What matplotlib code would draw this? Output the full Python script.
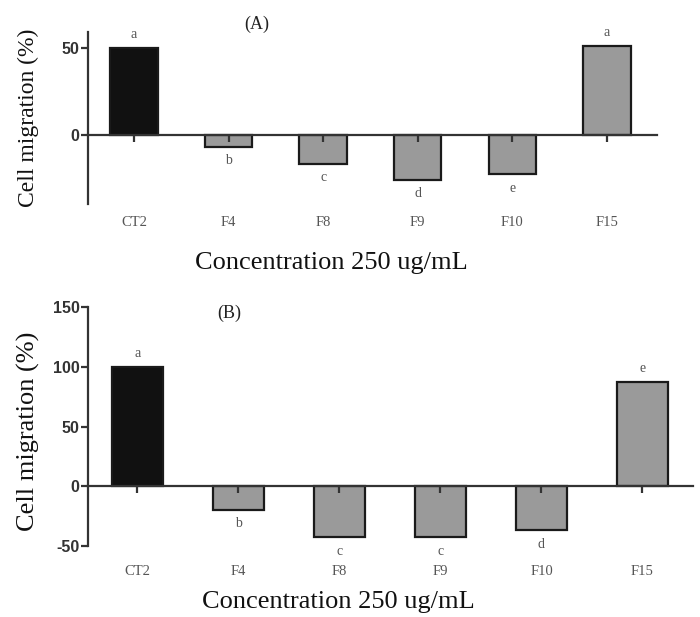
import numpy as np
import matplotlib
matplotlib.use("Agg")
import matplotlib.pyplot as plt

plt.rcParams["axes.unicode_minus"] = False

categories = ["CT2", "F4", "F8", "F9", "F10", "F15"]
values_a = [50, -6.7, -16.7, -25.9, -22.6, 51]
letters_a = ["a", "b", "c", "d", "e", "a"]
values_b = [100, -20, -43, -43, -37, 87]
letters_b = ["a", "b", "c", "c", "d", "e"]
yticks_a = [0, 50]
yticks_b = [-50, 0, 50, 100, 150]

serif = "Liberation Serif"
sans = "Liberation Sans"

fig = plt.figure(figsize=(7, 6.17), dpi=100)


def panel(rect, vals, letters, ylim, yticks, xlim, title, title_xy, ylab_xy, xlab_xy, ylab_size):
    ax = fig.add_axes(rect)
    x = np.arange(len(categories))
    colors = ["#111111"] + ["#9a9a9a"] * (len(categories) - 1)
    ax.bar(x, vals, width=0.5, color=colors, edgecolor="#1a1a1a", linewidth=1.6, zorder=1)
    ax.set_xlim(*xlim)
    ax.set_ylim(*ylim)
    ax.spines["top"].set_visible(False)
    ax.spines["right"].set_visible(False)
    ax.spines["bottom"].set_position(("data", 0))
    ax.spines["left"].set_linewidth(1.6)
    ax.spines["bottom"].set_linewidth(1.6)
    ax.spines["left"].set_color("#333333")
    ax.spines["bottom"].set_color("#333333")
    ax.set_xticks(x)
    ax.set_xticklabels([""] * len(x))
    ax.tick_params(axis="x", direction="out", length=5, width=1.6, color="#333333")
    ax.set_yticks(yticks)
    ax.tick_params(axis="y", direction="out", length=5, width=1.6, color="#333333",
                   labelsize=11.5, labelcolor="#333333", pad=1)
    for lab in ax.get_yticklabels():
        lab.set_fontfamily(sans)
        lab.set_fontweight("bold")
    for xi, name in zip(x, categories):
        ax.text(xi, -0.11, name, transform=ax.get_xaxis_transform(), ha="center", va="center",
                fontsize=10.5, family=serif, color="#555555")
    for xi, v, l in zip(x, vals, letters):
        off = 10 if v > 0 else -10
        ax.annotate(l, (xi, v), xytext=(0, off), textcoords="offset points", ha="center",
                    va="center", fontsize=10, family=serif, color="#555555")
    fig.text(title_xy[0] / 700, 1 - title_xy[1] / 617, title, ha="center", va="center",
             fontsize=13, family=serif, color="#222222")
    fig.text(ylab_xy[0] / 700, 1 - ylab_xy[1] / 617, "Cell migration (%)", rotation=90,
             ha="center", va="center", fontsize=ylab_size, family=serif, color="#111111")
    fig.text(xlab_xy[0] / 700, 1 - xlab_xy[1] / 617, "Concentration 250 ug/mL", ha="center",
             va="center", fontsize=19, family=serif, color="#111111")
    return ax


panel([88 / 700, 1 - 204 / 617, (657 - 88) / 700, (204 - 32) / 617],
      values_a, letters_a, (-39.7, 59.2), yticks_a, (-0.486, 5.53),
      "(A)", (257, 24), (28, 118), (331, 263), 17)
panel([88 / 700, 1 - 545.7 / 617, (693 - 88) / 700, (545.7 - 307.3) / 617],
      values_b, letters_b, (-50, 150), yticks_b, (-0.49, 5.5),
      "(B)", (229, 313), (28, 431), (338, 602), 19)

fig.savefig("out.png", dpi=100)
